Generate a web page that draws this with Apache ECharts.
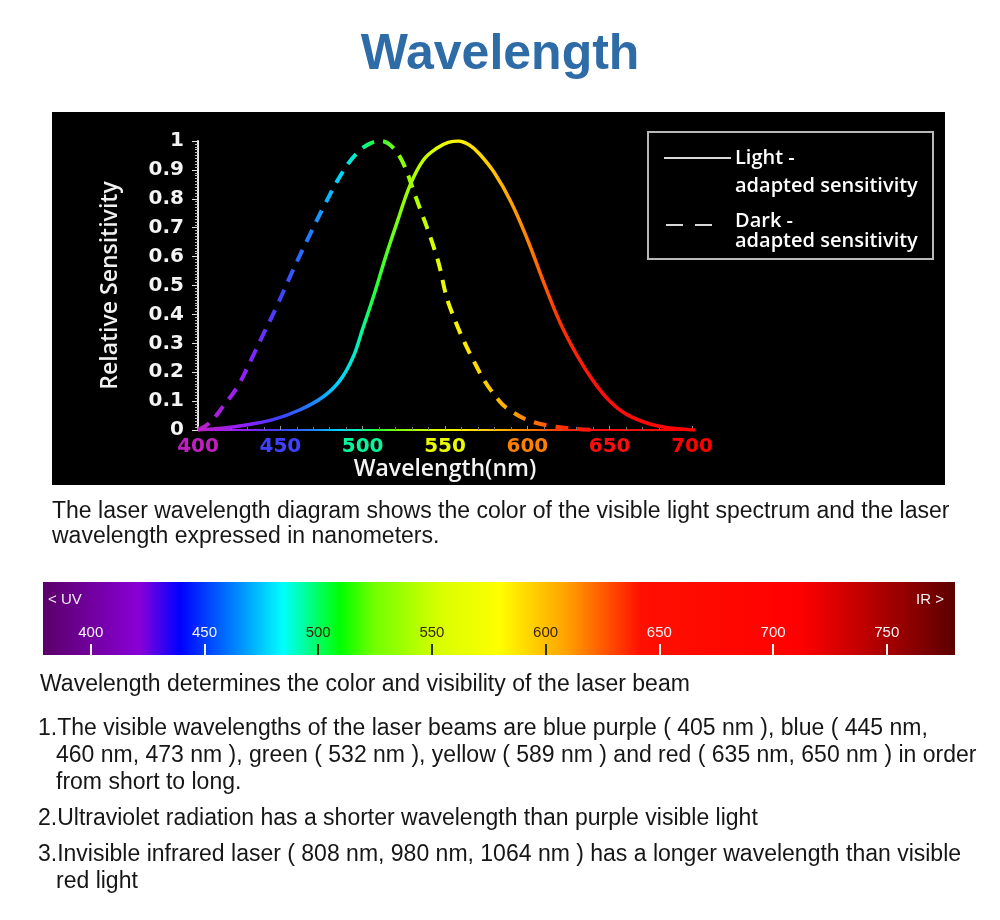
<!DOCTYPE html>
<html>
<head>
<meta charset="utf-8">
<title>Wavelength</title>
<script src="https://cdn.jsdelivr.net/npm/echarts@6/dist/echarts.min.js"></script>
<style>
  html, body { margin: 0; padding: 0; background: #fff; }
  body {
    width: 1000px; height: 920px; position: relative; overflow: hidden;
    font-family: "Liberation Sans", Arial, sans-serif; color: #161616;
  }
  .title {
    position: absolute; left: 0; top: 23px; width: 1000px; text-align: center;
    font-size: 50px; font-weight: bold; color: #2e6ca8; line-height: 58px;
  }
  .panel { position: absolute; left: 52px; top: 112px; width: 893px; height: 373px; background: #000; }
  #chart { position: absolute; left: 0; top: 0; width: 1000px; height: 920px; }
  .txt { position: absolute; font-size: 23px; white-space: nowrap; z-index: 2; }
  .item { left: 56px; text-indent: -18px; line-height: 27px; }
</style>
</head>
<body>
<div class="title">Wavelength</div>
<div class="panel"></div>
<div id="chart"></div>

<div class="txt" style="left:52px; top:498px; line-height:25px;">The laser wavelength diagram shows the color of the visible light spectrum and the laser<br>wavelength expressed in nanometers.</div>
<div class="txt" style="left:40px; top:670px; line-height:26px;">Wavelength determines the color and visibility of the laser beam</div>
<div class="txt item" style="top:714px;">1.The visible wavelengths of the laser beams are blue purple ( 405 nm ), blue ( 445 nm,<br>460 nm, 473 nm ), green ( 532 nm ), yellow ( 589 nm ) and red ( 635 nm, 650 nm ) in order<br>from short to long.</div>
<div class="txt item" style="top:804px;">2.Ultraviolet radiation has a shorter wavelength than purple visible light</div>
<div class="txt item" style="top:840px;">3.Invisible infrared laser ( 808 nm, 980 nm, 1064 nm ) has a longer wavelength than visible<br>red light</div>

<script>
// light-adapted (solid) curve
const lightNm  = [400, 412, 425, 445, 462, 476, 486, 494, 500, 507, 514, 521, 529, 537, 545, 552, 558, 565, 571, 580, 590, 600, 610, 620, 630, 640, 650, 660, 675, 690, 702];
const lightVal = [0, 0.005, 0.014, 0.035, 0.07, 0.115, 0.17, 0.25, 0.35, 0.47, 0.6, 0.72, 0.85, 0.935, 0.975, 0.995, 1.0, 0.985, 0.955, 0.89, 0.79, 0.66, 0.51, 0.37, 0.26, 0.17, 0.1, 0.055, 0.02, 0.005, 0];

// dark-adapted (dashed) curve
const darkNm  = [400, 407, 415, 424, 432, 440, 448, 457, 467, 477, 487, 496, 504, 511, 517, 524, 532, 545, 553, 571, 583, 589, 600, 614, 628, 640];
const darkVal = [0, 0.024, 0.08, 0.15, 0.24, 0.335, 0.43, 0.545, 0.665, 0.78, 0.885, 0.955, 0.99, 1.0, 0.985, 0.93, 0.81, 0.6, 0.425, 0.2, 0.1, 0.07, 0.035, 0.014, 0.005, 0];

// spectrum bar ticks
const barTicks = [400, 450, 500, 550, 600, 650, 700, 750];
const barDarkTicks = [500, 550, 600];

const xMin = 400, xMax = 700, xStep = 50;
const yMin = 0, yMax = 1, yStep = 0.1;

// colour of each wavelength, used for curves and their axis labels
const specStops = [
  [400, '#c020c0'], [430, '#9020ff'], [450, '#4040ff'], [470, '#2080ff'],
  [485, '#00d0ff'], [497, '#00f0c0'], [507, '#20ff40'], [525, '#90ff00'],
  [545, '#e0ff00'], [560, '#fff000'], [580, '#ffc000'], [600, '#ff8000'],
  [620, '#ff3000'], [640, '#ff1010'], [700, '#ff0000']
];

function hexToRgb(h) {
  return [parseInt(h.slice(1, 3), 16), parseInt(h.slice(3, 5), 16), parseInt(h.slice(5, 7), 16)];
}
function specColor(nm) {
  if (nm <= specStops[0][0]) return specStops[0][1];
  for (let i = 1; i < specStops.length; i++) {
    if (nm <= specStops[i][0]) {
      const a = specStops[i - 1], b = specStops[i];
      const t = (nm - a[0]) / (b[0] - a[0]);
      const ca = hexToRgb(a[1]), cb = hexToRgb(b[1]);
      const c = ca.map((v, k) => Math.round(v + (cb[k] - v) * t));
      return 'rgb(' + c.join(',') + ')';
    }
  }
  return specStops[specStops.length - 1][1];
}
function gradientFor(nms) {
  const lo = Math.min(...nms), hi = Math.max(...nms);
  const stops = [{ offset: 0, color: specColor(lo) }];
  specStops.forEach(s => {
    if (s[0] > lo && s[0] < hi) stops.push({ offset: (s[0] - lo) / (hi - lo), color: s[1] });
  });
  stops.push({ offset: 1, color: specColor(hi) });
  return new echarts.graphic.LinearGradient(0, 0, 1, 0, stops);
}

const barGradient = new echarts.graphic.LinearGradient(0, 0, 1, 0, [
  { offset: 0, color: '#5a0068' },
  { offset: 0.106, color: '#8a00d8' },
  { offset: 0.15, color: '#0000ff' },
  { offset: 0.216, color: '#0090ff' },
  { offset: 0.263, color: '#00ffff' },
  { offset: 0.326, color: '#00ff00' },
  { offset: 0.362, color: '#70ff00' },
  { offset: 0.435, color: '#d8ff00' },
  { offset: 0.5, color: '#ffff00' },
  { offset: 0.575, color: '#ffa000' },
  { offset: 0.655, color: '#ff1000' },
  { offset: 0.83, color: '#ff0000' },
  { offset: 0.9, color: '#c00000' },
  { offset: 1, color: '#5c0000' }
]);

const lightTicks = barTicks.filter(t => barDarkTicks.indexOf(t) < 0);

const chart = echarts.init(document.getElementById('chart'));

const option = {
  animation: false,
  backgroundColor: 'transparent',
  grid: [
    { left: 198, top: 141, width: 494, height: 289 },
    { left: 43, top: 582, width: 912, height: 73, show: true, backgroundColor: barGradient, borderWidth: 0 }
  ],
  xAxis: [
    {
      gridIndex: 0, type: 'value', min: xMin, max: xMax, interval: xStep,
      name: 'Wavelength(nm)', nameLocation: 'middle', nameGap: 28,
      nameTextStyle: { color: '#f4f4f4', fontSize: 23, fontFamily: 'Open Sans', fontWeight: 600 },
      axisLine: { show: true, lineStyle: { color: gradientFor([xMin, xMax]), width: 2 } },
      axisTick: { show: true, inside: true, length: 4, lineStyle: { color: '#999' } },
      minorTick: { show: true, splitNumber: 5, length: 3, lineStyle: { color: '#777' } },
      axisLabel: {
        margin: 7, fontSize: 20, fontWeight: 'bold', fontFamily: 'DejaVu Sans',
        color: v => specColor(v)
      },
      splitLine: { show: false }
    },
    {
      gridIndex: 1, type: 'value', min: 379, max: 780, position: 'bottom',
      axisLine: { show: false },
      axisTick: { show: true, inside: true, length: 11, customValues: lightTicks, lineStyle: { color: '#f4f4f4', width: 2 } },
      axisLabel: { show: true, inside: true, margin: 15, fontSize: 15, fontFamily: 'Liberation Sans', color: '#f4f4f4', customValues: lightTicks },
      splitLine: { show: false }
    },
    {
      gridIndex: 1, type: 'value', min: 379, max: 780, position: 'bottom', offset: 0,
      axisLine: { show: false },
      axisTick: { show: true, inside: true, length: 11, customValues: barDarkTicks, lineStyle: { color: '#2a3000', width: 2 } },
      axisLabel: { show: true, inside: true, margin: 15, fontSize: 15, fontFamily: 'Liberation Sans', customValues: barDarkTicks,
        color: v => (v === 500 ? '#004a10' : v === 550 ? '#3a3c00' : '#3c2400') },
      splitLine: { show: false }
    }
  ],
  yAxis: [
    {
      gridIndex: 0, type: 'value', min: yMin, max: yMax, interval: yStep,
      name: 'Relative Sensitivity', nameLocation: 'middle', nameGap: 76,
      nameTextStyle: { color: '#f0f0f0', fontSize: 23, fontFamily: 'Open Sans', fontWeight: 600 },
      axisLine: { show: true, lineStyle: { color: '#e8e8e8', width: 2 } },
      axisTick: { show: true, length: 6, lineStyle: { color: '#e0e0e0' } },
      minorTick: { show: true, splitNumber: 10, length: 3, lineStyle: { color: '#bbb' } },
      axisLabel: { margin: 14, fontSize: 20, fontWeight: 'bold', fontFamily: 'DejaVu Sans', color: '#f4f4f4' },
      splitLine: { show: false }
    },
    { gridIndex: 1, type: 'value', show: false, min: 0, max: 1 }
  ],
  graphic: [
    { type: 'rect', shape: { x: 648, y: 132, width: 285, height: 127 }, style: { fill: null, stroke: '#b8b8b8', lineWidth: 2 } },
    { type: 'line', shape: { x1: 664, y1: 158, x2: 731, y2: 158 }, style: { stroke: '#d8d8d8', lineWidth: 2 } },
    { type: 'line', shape: { x1: 666, y1: 225, x2: 712, y2: 225 }, style: { stroke: '#d8d8d8', lineWidth: 2, lineDash: [17, 12] } },
    { type: 'text', x: 735, y: 158, style: { text: 'Light -', fill: '#fff', font: '600 20px "Open Sans"', verticalAlign: 'middle' } },
    { type: 'text', x: 735, y: 186, style: { text: 'adapted sensitivity', fill: '#fff', font: '600 20px "Open Sans"', verticalAlign: 'middle' } },
    { type: 'text', x: 735, y: 221, style: { text: 'Dark -', fill: '#fff', font: '600 20px "Open Sans"', verticalAlign: 'middle' } },
    { type: 'text', x: 735, y: 241, style: { text: 'adapted sensitivity', fill: '#fff', font: '600 20px "Open Sans"', verticalAlign: 'middle' } },
    { type: 'text', x: 48, y: 600, style: { text: '< UV', fill: '#f0f0f0', font: '15px "Liberation Sans"', verticalAlign: 'middle' } },
    { type: 'text', x: 944, y: 600, style: { text: 'IR >', fill: '#f0f0f0', font: '15px "Liberation Sans"', verticalAlign: 'middle', align: 'right' } }
  ],
  series: [
    {
      name: 'Light - adapted sensitivity', type: 'line', xAxisIndex: 0, yAxisIndex: 0,
      smooth: 0.4, symbol: 'none',
      lineStyle: { width: 3.5, color: gradientFor(lightNm) },
      data: lightNm.map((n, i) => [n, lightVal[i]])
    },
    {
      name: 'Dark - adapted sensitivity', type: 'line', xAxisIndex: 0, yAxisIndex: 0,
      smooth: 0.4, symbol: 'none',
      lineStyle: { width: 4, type: [13, 9], color: gradientFor(darkNm) },
      data: darkNm.map((n, i) => [n, darkVal[i]])
    }
  ]
};

chart.setOption(option);
</script>
</body>
</html>
